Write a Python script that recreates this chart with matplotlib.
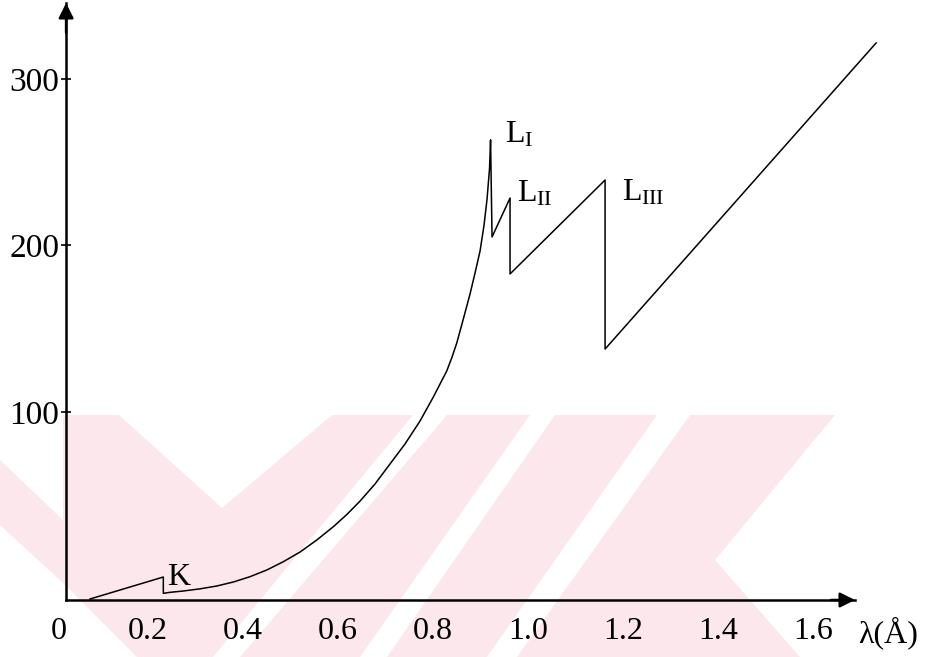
import numpy as np
import matplotlib.pyplot as plt
import matplotlib.transforms as mtransforms
from matplotlib.patches import Polygon

plt.rcParams['font.family'] = ['Liberation Serif', 'DejaVu Serif']
plt.rcParams['mathtext.fontset'] = 'custom'
plt.rcParams['mathtext.rm'] = 'Liberation Serif'
plt.rcParams['mathtext.it'] = 'Liberation Serif:italic'

# --- data ---
lam = [0.0783, 0.2327, 0.2327, 0.2468, 0.2748, 0.3100, 0.3451, 0.3801, 0.4152,
       0.4504, 0.4854, 0.5205, 0.5557, 0.5906, 0.6189, 0.6469, 0.6785, 0.7100,
       0.7416, 0.7732, 0.8012, 0.8294, 0.8406, 0.8505, 0.8644, 0.8785, 0.8890,
       0.8996, 0.9080, 0.9143, 0.9196, 0.9217, 0.9248, 0.9627, 0.9627, 1.1628,
       1.1628, 1.7334]
mu = [-12.3, 0.9, -8.9, -8.3, -7.5, -6.2, -4.5, -2.1, 1.1,
      5.1, 10.1, 15.9, 23.1, 31.1, 38.4, 46.5, 56.8, 68.8,
      80.8, 94.6, 109.0, 124.6, 133.0, 141.4, 155.9, 170.9, 183.5,
      196.7, 212.3, 227.9, 246.5, 263.4, 205.1, 228.5, 182.9, 239.3,
      137.8, 321.6]

x_ticks = [0, 0.2, 0.4, 0.6, 0.8, 1.0, 1.2, 1.4, 1.6]
x_labels = ['0', '0.2', '0.4', '0.6', '0.8', '1.0', '1.2', '1.4', '1.6']
y_ticks = [100, 200, 300]

edge_names = ['K', r'$\mathrm{L}_{\mathrm{I}}$', r'$\mathrm{L}_{\mathrm{II}}$',
              r'$\mathrm{L}_{\mathrm{III}}$']
edge_x = [0.240, 0.952, 0.977, 1.199]
edge_y = [-3.9, 261.6, 226.3, 227.3]

X0 = 0.028    # where the vertical axis sits
Y0 = -12.9    # where the horizontal axis sits
XMAX = 1.689
YMAX = 345.6

W, H = 925, 657
fig = plt.figure(figsize=(W / 100, H / 100), dpi=100)

# --- faint background watermark (pixel polygons) ---
PINK = '#fce8ec'
pink_shapes = [
    [(63, 415), (835, 415), (715, 560), (800, 657), (137, 657), (63, 583)],
    [(0, 460), (63, 520), (63, 583), (0, 525)],
]
white_shapes = [
    [(119, 415), (332, 415), (222, 508)],
    [(413, 415), (447, 415), (240, 657), (213, 657)],
    [(530, 415), (555, 415), (387, 657), (360, 657)],
    [(657, 415), (690, 415), (517, 657), (487, 657)],
]
for shapes, col in [(pink_shapes, PINK), (white_shapes, 'white')]:
    for pts in shapes:
        fpts = [(px / W, 1 - py / H) for px, py in pts]
        fig.patches.append(Polygon(fpts, closed=True, transform=fig.transFigure,
                                   facecolor=col, edgecolor='none', zorder=-10))

ax = fig.add_axes([52.8 / W, (H - 600) / H, (855 - 52.8) / W, (600 - 3) / H])
ax.set_zorder(5)
ax.patch.set_alpha(0)

ax.plot(lam, mu, color='black', lw=1.1, clip_on=False)

ax.set_xlim(0, XMAX)
ax.set_ylim(Y0, YMAX)

ax.spines['top'].set_visible(False)
ax.spines['right'].set_visible(False)
ax.spines['left'].set_position(('data', X0))
ax.spines['left'].set_linewidth(1.8)
ax.spines['bottom'].set_linewidth(1.8)
ax.spines['bottom'].set_bounds(X0, XMAX)

ax.set_xticks(x_ticks)
ax.set_xticklabels(x_labels)
ax.set_yticks(y_ticks)
ax.tick_params(axis='x', length=0, pad=12, labelsize=23)
ax.tick_params(axis='y', direction='inout', length=7, width=1.2, pad=1.5, labelsize=24)

# the "0" label sits a little right of its tick in the original
lbl0 = ax.xaxis.get_major_ticks()[0].label1
lbl0.set_transform(lbl0.get_transform() +
                   mtransforms.ScaledTranslation(6 / 100, 0, fig.dpi_scale_trans))

# arrow heads on the axes
head = dict(arrowstyle='-|>,head_length=0.6,head_width=0.3', color='black',
            lw=1.8, mutation_scale=15, shrinkA=0, shrinkB=0)
ax.annotate('', xy=(X0, 1), xytext=(X0, 0.95), xycoords=ax.get_xaxis_transform(),
            textcoords=ax.get_xaxis_transform(), arrowprops=head, annotation_clip=False)
ax.annotate('', xy=(1, Y0), xytext=(0.97, Y0), xycoords=ax.get_yaxis_transform(),
            textcoords=ax.get_yaxis_transform(), arrowprops=head, annotation_clip=False)

for name, ex, ey in zip(edge_names, edge_x, edge_y):
    ax.text(ex, ey, name, fontsize=23, ha='left', va='baseline', clip_on=False)

ax.text(1.696, -32.7, 'λ(Å)', fontsize=23, ha='left', va='center', clip_on=False)

fig.savefig('out.png', dpi=100)
